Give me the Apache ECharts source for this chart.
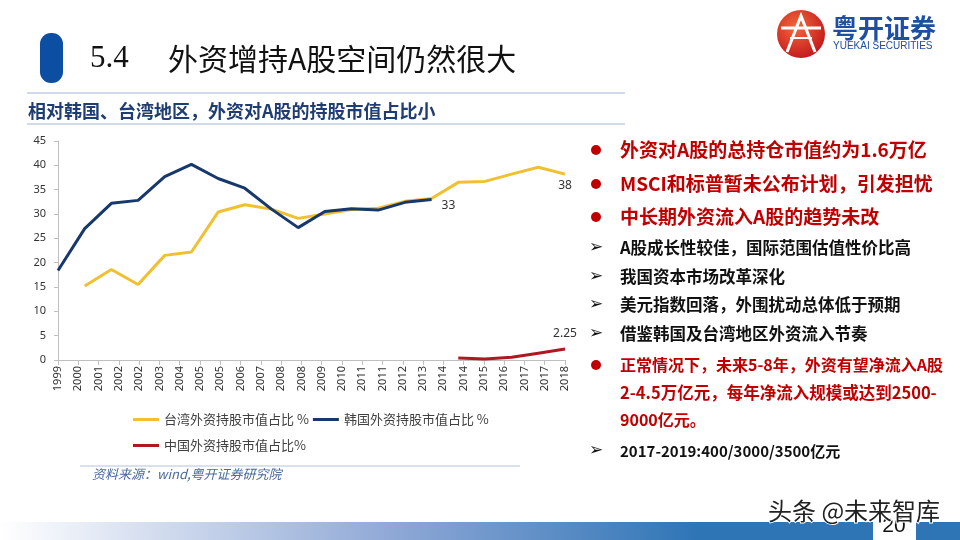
<!DOCTYPE html>
<html>
<head>
<meta charset="utf-8">
<script src="https://cdn.jsdelivr.net/npm/echarts@6/dist/echarts.min.js"></script>
<style>
  html, body { margin: 0; padding: 0; background: #fff; }
  #main { width: 960px; height: 540px; }
</style>
</head>
<body>
<div id="main"></div>
<script>
// tick labels on the date axis (as printed in the source slide)
var xLabels = ['1999','2000','2001','2002','2002','2003','2004','2005','2005','2006','2007','2008','2008',
               '2009','2010','2011','2011','2012','2013','2014','2014','2015','2016','2017','2017','2018'];

// 韩国 1999-2013
var koreaYears = [1999,2000,2001,2002,2003,2004,2005,2006,2007,2008,2009,2010,2011,2012,2013];
var korea = [18.4,27.0,32.2,32.8,37.7,40.2,37.3,35.3,31.0,27.2,30.5,31.1,30.8,32.4,33.0];

// 台湾 2000-2018
var taiwanYears = [2000,2001,2002,2003,2004,2005,2006,2007,2008,2009,2010,2011,2012,2013,2014,2015,2016,2017,2018];
var taiwan = [15.2,18.6,15.5,21.5,22.2,30.4,31.9,31.0,29.1,30.0,30.9,31.2,32.6,33.2,36.5,36.7,38.2,39.6,38.2];

// 中国 2014-2018
var chinaYears = [2014,2015,2016,2017,2018];
var china = [0.4,0.2,0.55,1.4,2.25];

var yTicks = { min: 0, max: 45, interval: 5 };

function pairs(xs, ys) {
    var out = [];
    for (var i = 0; i < xs.length; i++) {
        out.push([xs[i], ys[i]]);
    }
    return out;
}

// put a label on the last point only
function lastLabel(data, pos, dist, off, fmt) {
    var last = data[data.length - 1];
    data[data.length - 1] = {
        value: last,
        label: { show: true, position: pos, distance: dist, offset: off, fontSize: 12, color: '#333',
                 fontFamily: 'Noto Sans', formatter: fmt }
    };
    return data;
}

var cjk = '"Noto Sans CJK SC", sans-serif';
var red = '#C00000';

var rightTexts = [
    { t: '外资对A股的总持仓市值约为1.6万亿', y: 150, c: red, s: 19, mark: 'dot' },
    { t: 'MSCI和标普暂未公布计划，引发担忧', y: 184, c: red, s: 19, mark: 'dot' },
    { t: '中长期外资流入A股的趋势未改', y: 217, c: red, s: 19, mark: 'dot' },
    { t: 'A股成长性较佳，国际范围估值性价比高', y: 248, c: '#111', s: 16.5, mark: 'arrow' },
    { t: '我国资本市场改革深化', y: 277, c: '#111', s: 16.5, mark: 'arrow' },
    { t: '美元指数回落，外围扰动总体低于预期', y: 305, c: '#111', s: 16.5, mark: 'arrow' },
    { t: '借鉴韩国及台湾地区外资流入节奏', y: 334, c: '#111', s: 16.5, mark: 'arrow' },
    { t: '正常情况下，未来5-8年，外资有望净流入A股', y: 365, c: red, s: 16, mark: 'dot' },
    { t: '2-4.5万亿元，每年净流入规模或达到2500-', y: 393, c: red, s: 16.5, mark: '' },
    { t: '9000亿元。', y: 420, c: red, s: 16, mark: '' },
    { t: '2017-2019:400/3000/3500亿元', y: 451, c: '#111', s: 15, mark: 'arrow' }
];

var graphics = [
    // header
    { type: 'rect', shape: { x: 40, y: 33, width: 23, height: 50, r: 11 }, style: { fill: '#0B4EA2' } },
    { type: 'text', x: 90, y: 59, style: { text: '5.4', font: '31px "Liberation Serif", "DejaVu Serif", serif', fill: '#111', textVerticalAlign: 'middle' } },
    { type: 'text', x: 168, y: 59, style: { text: '外资增持A股空间仍然很大', font: '30px "Noto Sans CJK SC", serif', fill: '#111', textVerticalAlign: 'middle' } },
    { type: 'line', shape: { x1: 27, y1: 93, x2: 625, y2: 93 }, style: { stroke: '#D0DAE8', lineWidth: 2 } },
    { type: 'text', x: 28, y: 111, style: { text: '相对韩国、台湾地区，外资对A股的持股市值占比小', font: 'bold 18px ' + cjk, fill: '#1F3D73', textVerticalAlign: 'middle' } },
    { type: 'line', shape: { x1: 27, y1: 124, x2: 625, y2: 124 }, style: { stroke: '#D0DAE8', lineWidth: 2 } },
    // logo
    { type: 'circle', shape: { cx: 801, cy: 34, r: 24 },
      style: { fill: { type: 'radial', x: 0.4, y: 0.35, r: 0.7,
               colorStops: [{ offset: 0, color: '#F26A3A' }, { offset: 1, color: '#C2161C' }] } } },
    { type: 'polyline', shape: { points: [[787, 52], [801, 16], [815, 52]] }, style: { stroke: '#fff', lineWidth: 3, fill: null } },
    { type: 'line', shape: { x1: 781, y1: 28, x2: 821, y2: 28 }, style: { stroke: '#fff', lineWidth: 3 } },
    { type: 'line', shape: { x1: 790, y1: 38, x2: 812, y2: 38 }, style: { stroke: '#fff', lineWidth: 2 } },
    { type: 'text', x: 832, y: 28, style: { text: '粤开证券', font: 'bold 26px ' + cjk, fill: '#1E4FA0', textVerticalAlign: 'middle' } },
    { type: 'text', x: 833, y: 46, style: { text: 'YUEKAI SECURITIES', font: '10px "Liberation Sans", sans-serif', fill: '#1E4FA0', textVerticalAlign: 'middle' } },
    // source
    { type: 'line', shape: { x1: 80, y1: 466, x2: 520, y2: 466 }, style: { stroke: '#CBD7E6', lineWidth: 1.5 } },
    { type: 'text', x: 92, y: 474, style: { text: '资料来源：wind,粤开证券研究院', font: 'italic 13px ' + cjk, fill: '#4A6A9A', textVerticalAlign: 'middle' } },
    // footer bar
    { type: 'rect', shape: { x: 0, y: 522, width: 873, height: 18 },
      style: { fill: { type: 'linear', x: 0, y: 0, x2: 1, y2: 0,
               colorStops: [{ offset: 0, color: '#FFFFFF' }, { offset: 0.45, color: '#8FA8D6' }, { offset: 0.8, color: '#2E75B6' }, { offset: 1, color: '#2E75B6' }] } } },
    { type: 'rect', shape: { x: 916, y: 522, width: 44, height: 18 }, style: { fill: '#2E75B6' } },
    { type: 'text', x: 894, y: 526, style: { text: '20', font: '21px "Liberation Sans", sans-serif', fill: '#111', textAlign: 'center', textVerticalAlign: 'middle' } },
    { type: 'text', x: 768, y: 511, z: 10, style: { text: '头条 @未来智库', font: '24px ' + cjk, fill: '#222', stroke: '#fff', lineWidth: 2, textVerticalAlign: 'middle' } }
];

rightTexts.forEach(function (r) {
    if (r.mark === 'dot') {
        graphics.push({ type: 'circle', shape: { cx: 596, cy: r.y, r: 5 }, style: { fill: red } });
    } else if (r.mark === 'arrow') {
        graphics.push({ type: 'text', x: 596, y: r.y, style: { text: '➢', font: '17px "DejaVu Sans", sans-serif', fill: '#111', textAlign: 'center', textVerticalAlign: 'middle' } });
    }
    graphics.push({ type: 'text', x: 620, y: r.y, style: { text: r.t, font: 'bold ' + r.s + 'px ' + cjk, fill: r.c, textVerticalAlign: 'middle' } });
});

var chart = echarts.init(document.getElementById('main'));

var option = {
    backgroundColor: '#fff',
    animation: false,
    grid: { left: 58, right: 395, top: 141, bottom: 180, containLabel: false },
    legend: [
        { left: 128, top: 408, itemWidth: 26, itemHeight: 3, itemGap: 4, icon: 'rect',
          textStyle: { fontSize: 13, color: '#404040', fontFamily: cjk },
          data: ['台湾外资持股市值占比 %', '韩国外资持股市值占比 %'] },
        { left: 128, top: 434, itemWidth: 26, itemHeight: 3, itemGap: 4, icon: 'rect',
          textStyle: { fontSize: 13, color: '#404040', fontFamily: cjk },
          data: ['中国外资持股市值占比%'] }
    ],
    xAxis: [
        {
            type: 'category',
            data: xLabels,
            boundaryGap: false,
            axisLine: { lineStyle: { color: '#BFBFBF', width: 1 } },
            axisTick: { show: true, alignWithLabel: true, length: 5, lineStyle: { color: '#BFBFBF' } },
            axisLabel: { rotate: 90, fontSize: 11, color: '#333', fontFamily: 'Noto Sans', margin: 6, interval: 0 },
            splitLine: { show: false }
        },
        { type: 'value', min: 1999, max: 2018, show: false }
    ],
    yAxis: {
        type: 'value',
        min: yTicks.min, max: yTicks.max, interval: yTicks.interval,
        axisLine: { show: true, lineStyle: { color: '#BFBFBF' } },
        axisTick: { show: true, length: 4, lineStyle: { color: '#BFBFBF' } },
        axisLabel: { fontSize: 11, color: '#333', fontFamily: 'Noto Sans', margin: 12 },
        splitLine: { show: false }
    },
    series: [
        {
            name: '台湾外资持股市值占比 %', type: 'line', xAxisIndex: 1,
            data: lastLabel(pairs(taiwanYears, taiwan), 'bottom', 5, [0, 0], function (p) { return Math.round(p.value[1]); }),
            showSymbol: true, symbol: 'circle', symbolSize: 0, itemStyle: { color: '#F0C030' },
            lineStyle: { color: '#F0C030', width: 3 }
        },
        {
            name: '韩国外资持股市值占比 %', type: 'line', xAxisIndex: 1,
            data: lastLabel(pairs(koreaYears, korea), 'right', 10, [0, 6], function (p) { return Math.round(p.value[1]); }),
            showSymbol: true, symbol: 'circle', symbolSize: 0, itemStyle: { color: '#17386B' },
            lineStyle: { color: '#17386B', width: 3 }
        },
        {
            name: '中国外资持股市值占比%', type: 'line', xAxisIndex: 1,
            data: lastLabel(pairs(chinaYears, china), 'top', 9, [0, 0], function (p) { return p.value[1]; }),
            showSymbol: true, symbol: 'circle', symbolSize: 0, itemStyle: { color: '#B01820' },
            lineStyle: { color: '#B01820', width: 3 }
        }
    ],
    graphic: graphics
};

chart.setOption(option);
</script>
</body>
</html>
